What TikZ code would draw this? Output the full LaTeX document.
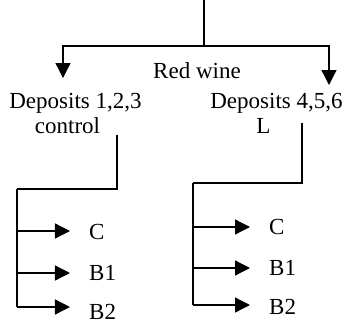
\documentclass[tikz,border=0pt]{standalone}
\usepackage{fontspec}
\setmainfont{Liberation Serif}
\usetikzlibrary{arrows.meta}
\begin{document}
\begin{tikzpicture}[x=1bp,y=-1bp,
  lbl/.style={inner sep=0pt,font=\fontsize{23bp}{25bp}\selectfont},
  thin/.style={line width=1.3bp},
  thick/.style={line width=2.2bp},
  arr/.style={thin,-{Triangle[length=15bp,width=15bp]}}]
\useasboundingbox (0,0) rectangle (344,323);
% texts
\node[lbl,anchor=base] (red) at (197,78) {Red wine};
\node[lbl,anchor=base] (d1) at (75.5,108) {Deposits 1,2,3};
\node[lbl,anchor=base] (c1) at (67.5,133) {control};
\node[lbl,anchor=base] (d2) at (276.5,108) {Deposits 4,5,6};
\node[lbl,anchor=base] (l2) at (263.5,133) {L};
\node[lbl,anchor=base west] (lc) at (89,239) {C};
\node[lbl,anchor=base west] (lb1) at (89,280) {B1};
\node[lbl,anchor=base west] (lb2) at (89,319) {B2};
\node[lbl,anchor=base west] (rc) at (269,234) {C};
\node[lbl,anchor=base west] (rb1) at (269,275) {B1};
\node[lbl,anchor=base west] (rb2) at (269,314) {B2};
% coordinates
\coordinate (top) at (204,0);
\coordinate (j) at (204,46);
\coordinate (tl) at (63,78);
\coordinate (tr) at (329,85);
\coordinate (ls) at (117,135);
\coordinate (lk) at (117,189);
\coordinate (lv) at (17,189);
\coordinate (lv1) at (17,231);
\coordinate (lv2) at (17,273);
\coordinate (lv3) at (17,307);
\coordinate (rs) at (302,123);
\coordinate (rk) at (302,183);
\coordinate (rv) at (193,183);
\coordinate (rv1) at (193,227);
\coordinate (rv2) at (193,268);
\coordinate (rv3) at (193,305);
\coordinate (la1) at (70,231);
\coordinate (la2) at (70,273);
\coordinate (la3) at (70,307);
\coordinate (ra1) at (250,227);
\coordinate (ra2) at (250,268);
\coordinate (ra3) at (250,305);
% connectors
\draw[thin] (top) -- (j);
\draw[arr] (j) -| (tl);
\draw[arr] (j) -| (tr);
\draw[thick] (ls) -- (lk) -- (lv);
\draw[thin] (lv) -- (lv3);
\draw[arr] (lv1) -- (la1);
\draw[arr] (lv2) -- (la2);
\draw[arr] (lv3) -- (la3);
\draw[thick] (rs) -- (rk) -- (rv);
\draw[thin] (rv) -- (rv3);
\draw[arr] (rv1) -- (ra1);
\draw[arr] (rv2) -- (ra2);
\draw[arr] (rv3) -- (ra3);
\end{tikzpicture}
\end{document}
